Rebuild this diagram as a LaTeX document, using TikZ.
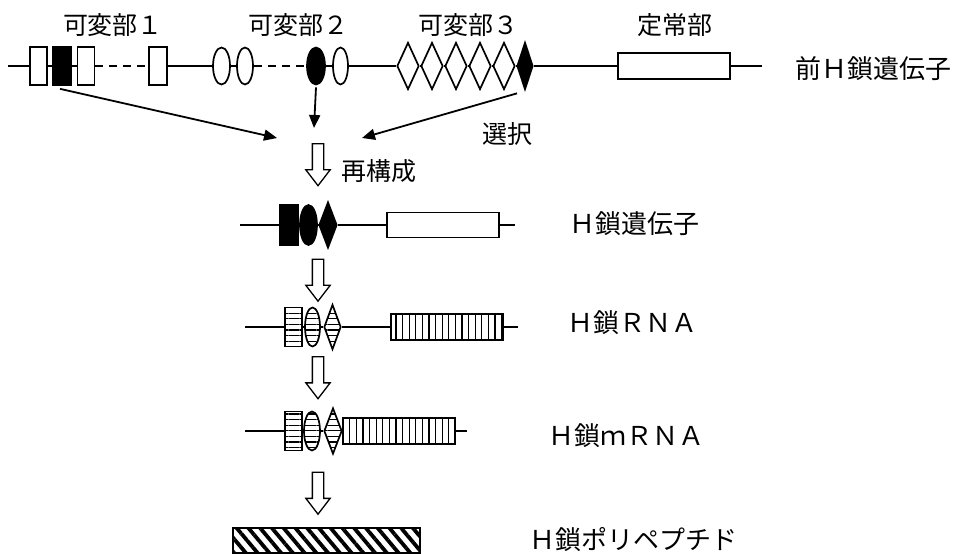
\documentclass[tikz,border=0pt]{standalone}
\usepackage{fontspec}
\setmainfont{Noto Sans CJK JP}
\usetikzlibrary{arrows.meta, positioning, shapes.geometric, shapes.arrows, patterns.meta}

\begin{document}
\begin{tikzpicture}[
    x=1pt, y=-1pt,
    every node/.style={inner sep=0pt, line width=1.7pt},
    exon/.style={draw, rectangle, minimum width=17pt, minimum height=38pt},
    oval/.style={draw, ellipse, minimum width=17pt, minimum height=37pt},
    rhomb/.style={draw, diamond, minimum width=22pt, minimum height=47pt},
    const/.style={draw, rectangle, minimum width=112pt, minimum height=26pt},
    dark/.style={fill=black},
    hstripes/.style={pattern={Lines[angle=0, distance=5.6pt, line width=1.1pt]}},
    vstripes/.style={pattern={Lines[angle=90, distance=6.6pt, line width=1.2pt]}},
    hatch/.style={pattern={Lines[angle=-50, distance=9pt, line width=3.8pt]}},
    flow/.style={draw, single arrow, shape border rotate=270, inner sep=5pt,
        minimum height=42pt, single arrow head extend=6.5pt, single arrow tip angle=75, line width=1.3pt},
    lbl/.style={font=\fontsize{26}{30}\selectfont},
    hdr/.style={font=\fontsize{25}{30}\selectfont},
    strand/.style={line width=1.8pt},
    arrow/.style={-{Triangle[length=13pt, width=11pt]}, line width=1.8pt}
]
    \useasboundingbox (0,0) rectangle (962,554);

    % germline gene
    \coordinate (g0) at (8,66);
    \node[exon] (v1a) at (38.5,66) {};
    \node[exon, dark, minimum width=18pt] (v1b) at (62,66) {};
    \node[exon] (v1c) at (86,66) {};
    \node[exon, minimum width=18pt] (v1d) at (158,66) {};
    \node[oval] (v2a) at (221.5,66) {};
    \node[oval, minimum width=16pt] (v2b) at (245,66) {};
    \node[oval, dark, minimum width=18pt] (v2c) at (316,66) {};
    \node[oval, minimum width=15pt] (v2d) at (340.5,66) {};
    \foreach \i/\x in {a/408, b/432, c/456, d/480, e/504}
        \node[rhomb] (v3\i) at (\x,66) {};
    \node[rhomb, dark, minimum width=16pt] (v3f) at (525,66) {};
    \node[const] (c0) at (674,66) {};
    \coordinate (g1) at (762,66);

    \draw[strand] (g0) -- (v1a) -- (v1b) -- (v1c);
    \draw[strand, dash pattern=on 8pt off 6pt] (v1c) -- (v1d);
    \draw[strand] (v1d) -- (v2a) -- (v2b);
    \draw[strand, dash pattern=on 8pt off 6pt] (v2b) -- (v2c);
    \draw[strand] (v2c) -- (v2d) -- (v3a) -- (v3b) -- (v3c) -- (v3d) -- (v3e) -- (v3f) -- (c0) -- (g1);

    \node[hdr] (n1) at (113,25) {可変部１};
    \node[hdr] (n2) at (298,25) {可変部２};
    \node[hdr] (n3) at (468,25) {可変部３};
    \node[hdr] (n4) at (675,25) {定常部};
    \node[lbl] (l0) at (873,69) {前Ｈ鎖遺伝子};

    % selection
    \coordinate (m1) at (277,138);
    \coordinate (m2) at (314,128);
    \coordinate (m3) at (362,138);
    \draw[arrow] ([xshift=-2pt, yshift=-3pt]v1b.south) -- (m1);
    \draw[arrow] ([yshift=-2pt]v2c.south) -- (m2);
    \draw[arrow] ([xshift=-8pt, yshift=-3pt]v3f.south) -- (m3);
    \node[hdr] (sel) at (507,134) {選択};

    \node[flow] (t1) at (318,161) {};
    \node[hdr] (re) at (378.5,171) {再構成};

    % rearranged gene
    \coordinate (h0) at (240,225);
    \node[exon, dark, minimum width=18pt, minimum height=40pt] (k1) at (289,225) {};
    \node[oval, dark, minimum height=40pt] (k2) at (308.5,225) {};
    \node[rhomb, dark, minimum width=18pt, minimum height=46pt] (k3) at (328,225) {};
    \node[const, minimum height=25pt] (k4) at (443,225) {};
    \coordinate (h1) at (515,225);
    \draw[strand] (h0) -- (k1) -- (k2) -- (k3) -- (k4) -- (h1);
    \node[lbl] (l1) at (634.5,224) {Ｈ鎖遺伝子};

    \node[flow] (t2) at (318,276.5) {};

    % RNA
    \coordinate (r0) at (245,327);
    \node[exon, hstripes, minimum height=39pt] (p1) at (293.5,327) {};
    \node[oval, hstripes, minimum width=15pt, minimum height=39pt] (p2) at (312.5,327) {};
    \node[rhomb, hstripes, minimum width=17pt, minimum height=45pt] (p3) at (332.5,327) {};
    \node[const, vstripes] (p4) at (447,327) {};
    \coordinate (r1) at (518,327);
    \draw[strand] (r0) -- (p1) -- (p2) -- (p3) -- (p4) -- (r1);
    \node[lbl] (l2) at (632,323) {Ｈ鎖ＲＮＡ};

    \node[flow] (t3) at (318,374) {};

    % mRNA
    \coordinate (q0) at (245,431);
    \node[exon, hstripes, minimum height=39pt] (s1) at (293.5,431) {};
    \node[oval, hstripes, minimum width=16pt, minimum height=39pt] (s2) at (312,431) {};
    \node[rhomb, hstripes, minimum width=18pt, minimum height=46pt] (s3) at (333,431) {};
    \node[const, vstripes] (s4) at (399,431) {};
    \coordinate (q1) at (467,431);
    \draw[strand] (q0) -- (s1) -- (s2) -- (s3) -- (s4) -- (q1);
    \node[lbl] (l3) at (626,436) {Ｈ鎖ｍＲＮＡ};

    \node[flow] (t4) at (318,489.5) {};

    % polypeptide
    \node[draw, hatch, minimum width=187pt, minimum height=25pt] (pp) at (326.5,540.5) {};
    \node[lbl] (l4) at (633,540) {Ｈ鎖ポリペプチド};
\end{tikzpicture}
\end{document}
